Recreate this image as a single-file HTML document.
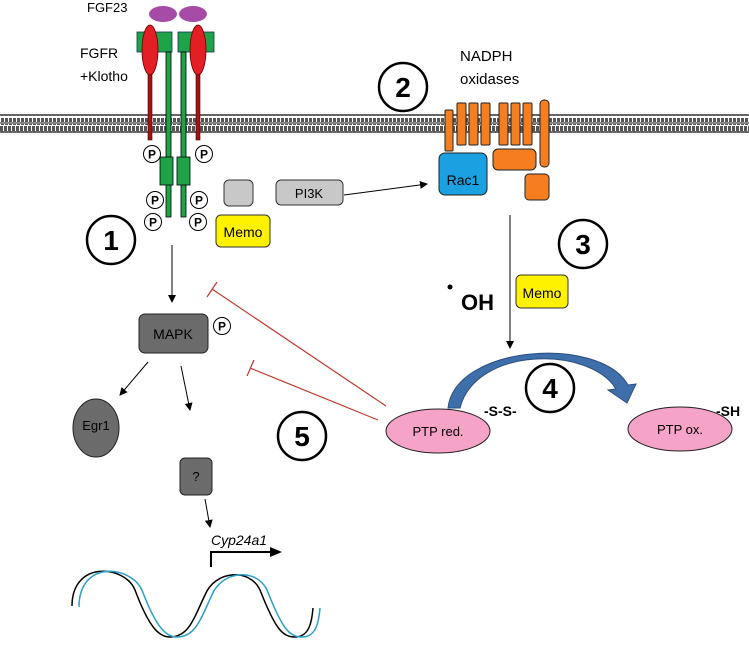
<!DOCTYPE html>
<html><head><style>
body{margin:0;background:#fff;}
svg text{font-family:"Liberation Sans",sans-serif;}
</style></head><body>
<svg width="749" height="646" xmlns="http://www.w3.org/2000/svg">
<defs>
<pattern id="mem" width="4" height="18" patternUnits="userSpaceOnUse">
<rect width="4" height="18" fill="#fff"/>
<rect x="0" y="0" width="3" height="7" fill="#555"/>
<rect x="1" y="10" width="3" height="7" fill="#555"/>
</pattern>
<marker id="ah" markerWidth="8" markerHeight="8" refX="7" refY="4" orient="auto" markerUnits="userSpaceOnUse"><path d="M0,0 L8,4 L0,8 z" fill="#000"/></marker>
</defs>
<!-- membrane -->
<rect x="0" y="115" width="749" height="17" fill="url(#mem)"/>
<rect x="0" y="114" width="749" height="2" fill="#666"/>
<rect x="0" y="131" width="749" height="2" fill="#666"/>
<rect x="0" y="122" width="749" height="2" fill="#888"/>

<!-- FGF23 receptor -->
<text x="87" y="12" font-size="13">FGF23</text>
<ellipse cx="163" cy="14" rx="14" ry="8" fill="#a64ca6"/>
<ellipse cx="193" cy="14" rx="14" ry="8" fill="#a64ca6"/>
<text x="80" y="58" font-size="14">FGFR</text>
<text x="80" y="81" font-size="14">+Klotho</text>
<rect x="137" y="32" width="35" height="20" fill="#1fa349" stroke="#135" stroke-width="0.8"/>
<rect x="178" y="32" width="36" height="20" fill="#1fa349" stroke="#135" stroke-width="0.8"/>
<rect x="166" y="52" width="5" height="165" fill="#1fa349" stroke="#000" stroke-width="0.8"/>
<rect x="181" y="52" width="5" height="165" fill="#1fa349" stroke="#000" stroke-width="0.8"/>
<rect x="148" y="74" width="4" height="66" fill="#a11" stroke="#400" stroke-width="0.6"/>
<rect x="196" y="74" width="4" height="66" fill="#a11" stroke="#400" stroke-width="0.6"/>
<ellipse cx="150" cy="50" rx="8" ry="25" fill="#e31e24" stroke="#600" stroke-width="0.8"/>
<ellipse cx="198" cy="50" rx="8" ry="25" fill="#e31e24" stroke="#600" stroke-width="0.8"/>
<rect x="160" y="157" width="13" height="28" fill="#1fa349" stroke="#000" stroke-width="0.8"/>
<rect x="177" y="157" width="13" height="28" fill="#1fa349" stroke="#000" stroke-width="0.8"/>
<g font-size="12" font-weight="bold" text-anchor="middle" fill="#000">
<circle cx="152" cy="154" r="8.5" fill="#fff" stroke="#000"/><text x="152" y="158.5">P</text>
<circle cx="204" cy="154" r="8.5" fill="#fff" stroke="#000"/><text x="204" y="158.5">P</text>
<circle cx="155" cy="200" r="8.5" fill="#fff" stroke="#000"/><text x="155" y="204.5">P</text>
<circle cx="199" cy="200" r="8.5" fill="#fff" stroke="#000"/><text x="199" y="204.5">P</text>
<circle cx="153" cy="222" r="8.5" fill="#fff" stroke="#000"/><text x="153" y="226.5">P</text>
<circle cx="198" cy="222" r="8.5" fill="#fff" stroke="#000"/><text x="198" y="226.5">P</text>
<circle cx="222" cy="326" r="8.5" fill="#fff" stroke="#000"/><text x="222" y="330.5">P</text>
</g>
<rect x="224" y="180" width="29" height="26" rx="5" fill="#c8c8c8" stroke="#333"/>
<rect x="276" y="180" width="67" height="25" rx="5" fill="#c8c8c8" stroke="#333"/>
<text x="309" y="198" font-size="13" text-anchor="middle">PI3K</text>
<rect x="216" y="215" width="54" height="32" rx="5" fill="#fff200" stroke="#333"/>
<text x="243" y="237" font-size="14" text-anchor="middle">Memo</text>

<!-- blue arc -->
<path d="M448,408 C455,345 600,335 628,385 L636,384 L627,403 L608,390 L616,389 C590,346 476,346 460,408 Z" fill="#3f6fab" stroke="#2a4f80" stroke-width="1"/>

<!-- circles numbers -->
<g fill="#fff" stroke="#000" stroke-width="2.5">
<circle cx="111" cy="240" r="24"/><circle cx="403" cy="87" r="24"/><circle cx="583" cy="244" r="24"/><circle cx="550" cy="388" r="24"/><circle cx="302" cy="436" r="24"/>
</g>
<g font-size="28" font-weight="bold" text-anchor="middle">
<text x="111" y="250">1</text><text x="403" y="97">2</text><text x="583" y="254">3</text><text x="550" y="398">4</text><text x="302" y="446">5</text>
</g>

<!-- NADPH -->
<text x="460" y="61" font-size="15">NADPH</text>
<text x="460" y="84" font-size="15">oxidases</text>
<g fill="#f47e20" stroke="#222" stroke-width="1">
<rect x="445" y="110" width="8" height="41" rx="1"/>
<rect x="457" y="103" width="9" height="42" rx="1"/>
<rect x="469" y="103" width="9" height="42" rx="1"/>
<rect x="481" y="103" width="9" height="42" rx="1"/>
<rect x="499" y="103" width="9" height="42" rx="1"/>
<rect x="511" y="103" width="9" height="42" rx="1"/>
<rect x="523" y="103" width="9" height="42" rx="1"/>
<rect x="540" y="100" width="9" height="67" rx="4"/>
<rect x="493" y="149" width="43" height="21" rx="5"/>
<rect x="525" y="174" width="24" height="26" rx="4"/>
</g>
<rect x="439" y="153" width="48" height="42" rx="6" fill="#1ba1e2" stroke="#222"/>
<text x="463" y="185" font-size="14" text-anchor="middle">Rac1</text>
<line x1="344" y1="195" x2="427" y2="184" stroke="#000" marker-end="url(#ah)"/>

<!-- ROS path -->
<line x1="510" y1="215" x2="510" y2="348" stroke="#000" marker-end="url(#ah)"/>
<rect x="516" y="275" width="52" height="33" rx="5" fill="#fff200" stroke="#333"/>
<text x="542" y="298" font-size="14" text-anchor="middle">Memo</text>
<circle cx="450" cy="287" r="2.5" fill="#000"/>
<text x="461" y="310" font-size="22" font-weight="bold">OH</text>

<text x="484" y="416" font-size="14" font-weight="bold">-S-S-</text>
<text x="716" y="416" font-size="14" font-weight="bold">-SH</text>
<ellipse cx="438" cy="431" rx="52" ry="22" fill="#f5a3c7" stroke="#222"/>
<text x="438" y="436" font-size="13" text-anchor="middle">PTP red.</text>
<ellipse cx="680" cy="429" rx="52" ry="22" fill="#f5a3c7" stroke="#222"/>
<text x="680" y="434" font-size="13" text-anchor="middle">PTP ox.</text>

<!-- inhibitors -->
<g stroke="#c0392b" stroke-width="1.2">
<line x1="386" y1="406" x2="212" y2="289"/>
<line x1="207" y1="297" x2="217" y2="282"/>
<line x1="378" y1="420" x2="250" y2="368"/>
<line x1="247" y1="376" x2="254" y2="360"/>
</g>

<!-- MAPK -->
<line x1="172" y1="245" x2="172" y2="302" stroke="#000" marker-end="url(#ah)"/>
<rect x="139" y="314" width="69" height="39" rx="6" fill="#6b6b6b" stroke="#222"/>
<text x="173" y="339" font-size="14" text-anchor="middle">MAPK</text>
<line x1="148" y1="362" x2="120" y2="395" stroke="#000" marker-end="url(#ah)"/>
<line x1="181" y1="366" x2="190" y2="410" stroke="#000" marker-end="url(#ah)"/>
<ellipse cx="96" cy="428" rx="23" ry="29" fill="#6b6b6b" stroke="#222"/>
<text x="96" y="430" font-size="13" text-anchor="middle">Egr1</text>
<rect x="180" y="458" width="32" height="37" rx="5" fill="#6b6b6b" stroke="#222"/>
<text x="196" y="481" font-size="13" text-anchor="middle">?</text>
<line x1="205" y1="499" x2="210" y2="527" stroke="#000" marker-end="url(#ah)"/>
<text x="211" y="545" font-size="14" font-style="italic">Cyp24a1</text>
<path d="M211,567 L211,552 L272,552" fill="none" stroke="#000" stroke-width="2"/>
<path d="M270,547 L282,552 L270,557 z" fill="#000"/>

<!-- DNA -->
<path d="M72,606 C72,560 125,565 135,590 C150,630 160,637 170,637 C190,637 195,615 205,595 C215,570 250,568 260,590 C275,628 282,637 295,637 C310,637 312,620 313,608" fill="none" stroke="#000" stroke-width="1.5"/>
<path d="M79,607 C79,560 130,565 142,590 C157,630 167,637 177,637 C197,637 202,615 212,595 C222,570 257,568 267,590 C282,628 289,637 302,637 C317,637 319,620 320,608" fill="none" stroke="#2a9fc9" stroke-width="1.5"/>
</svg>
</body></html>
